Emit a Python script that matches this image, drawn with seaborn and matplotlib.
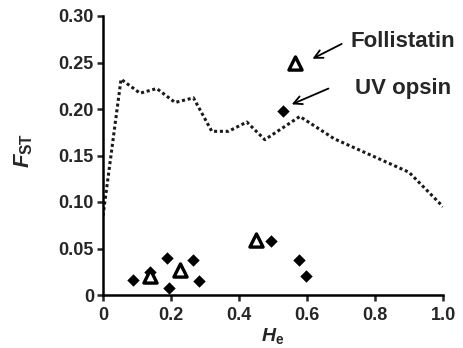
import matplotlib
matplotlib.use("Agg")
import matplotlib.pyplot as plt
import seaborn as sns
import pandas as pd

# ---- data ----
line_he = [0.0, 0.053, 0.109, 0.158, 0.212, 0.266, 0.320, 0.369, 0.423, 0.476, 0.579, 0.68, 0.90, 1.0]
line_fst = [0.085, 0.232, 0.217, 0.222, 0.207, 0.212, 0.176, 0.176, 0.186, 0.167, 0.192, 0.168, 0.132, 0.095]

diamond_he = [0.089, 0.138, 0.187, 0.195, 0.266, 0.283, 0.493, 0.576, 0.597, 0.528]
diamond_fst = [0.016, 0.025, 0.040, 0.007, 0.038, 0.015, 0.058, 0.038, 0.020, 0.198]

triangle_he = [0.138, 0.226, 0.449, 0.565]
triangle_fst = [0.020, 0.027, 0.059, 0.249]

x_ticks = [0, 0.2, 0.4, 0.6, 0.8, 1.0]
x_tick_labels = ["0", "0.2", "0.4", "0.6", "0.8", "1.0"]
y_ticks = [0, 0.05, 0.10, 0.15, 0.20, 0.25, 0.30]
y_tick_labels = ["0", "0.05", "0.10", "0.15", "0.20", "0.25", "0.30"]

labels = ["Follistatin", "UV opsin"]
label_xy = [(0.729, 0.273), (0.741, 0.222)]
arrow_tail = [(0.702, 0.270), (0.663, 0.222)]
arrow_head = [(0.616, 0.254), (0.555, 0.205)]

# ---- style ----
sns.set_style("ticks")
plt.rcParams["font.family"] = ["Liberation Sans", "DejaVu Sans"]
plt.rcParams["font.weight"] = "bold"
plt.rcParams["mathtext.fontset"] = "custom"
plt.rcParams["mathtext.rm"] = "Liberation Sans:bold"
plt.rcParams["mathtext.it"] = "Liberation Sans:italic:bold"
plt.rcParams["mathtext.bf"] = "Liberation Sans:bold"

fig = plt.figure(figsize=(4.63, 3.48), dpi=100)
ax = fig.add_axes([103 / 463, 53 / 348, 340 / 463, 279 / 348])

line_df = pd.DataFrame({"He": line_he, "Fst": line_fst})
dia_df = pd.DataFrame({"He": diamond_he, "Fst": diamond_fst})
tri_df = pd.DataFrame({"He": triangle_he, "Fst": triangle_fst})

sns.lineplot(data=line_df, x="He", y="Fst", sort=False, estimator=None, ax=ax,
             color="#1a1a1a", linewidth=2.2, linestyle=(0, (1, 0.9)))
sns.scatterplot(data=dia_df, x="He", y="Fst", marker="D", s=40, color="black",
                linewidth=0, ax=ax, zorder=3)
sns.scatterplot(data=tri_df, x="He", y="Fst", marker="^", s=90, facecolor="white",
                edgecolor="black", linewidth=2.4, ax=ax, zorder=4)

for lab, (tx, ty), tail, head in zip(labels, label_xy, arrow_tail, arrow_head):
    ax.text(tx, ty, lab, fontsize=16, fontweight="bold", ha="left", va="center")
    ax.annotate("", xy=head, xytext=tail,
                arrowprops=dict(arrowstyle="->", lw=1.3, color="black",
                                shrinkA=0, shrinkB=0, mutation_scale=15))

ax.set_xlim(0, 1.0)
ax.set_ylim(0, 0.30)
ax.set_xticks(x_ticks)
ax.set_xticklabels(x_tick_labels)
ax.set_yticks(y_ticks)
ax.set_yticklabels(y_tick_labels)
ax.tick_params(axis="both", direction="out", length=4.5, width=1.8, labelsize=13)
ax.tick_params(axis="x", pad=4)
ax.tick_params(axis="y", pad=2)
for t in ax.get_xticklabels() + ax.get_yticklabels():
    t.set_fontweight("bold")

sns.despine(ax=ax)
for sp in ["left", "bottom"]:
    ax.spines[sp].set_linewidth(1.8)
    ax.spines[sp].set_color("black")

ax.set_xlabel(r"$\mathit{H}_{\mathrm{e}}$", fontsize=14)
ax.set_ylabel(r"$\mathit{F}_{\mathrm{ST}}$", fontsize=16)
ax.xaxis.set_label_coords(0.5, -0.11)
ax.yaxis.set_label_coords(-0.2, 0.52)

fig.savefig("out.png", dpi=100)
